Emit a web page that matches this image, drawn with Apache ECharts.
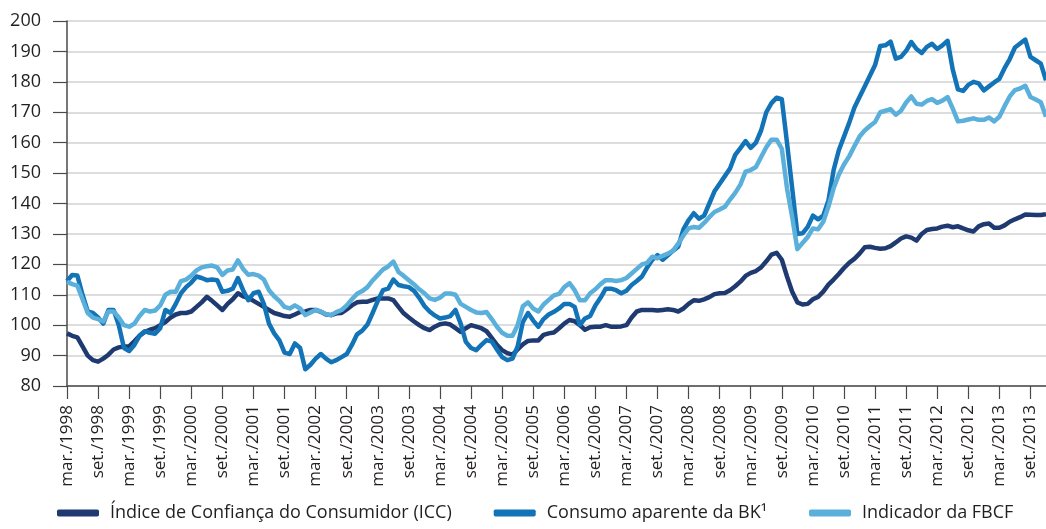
<!DOCTYPE html>
<html>
<head>
<meta charset="utf-8">
<script src="https://cdn.jsdelivr.net/npm/echarts@6/dist/echarts.min.js"></script>
<style>
  html, body { margin: 0; padding: 0; background: #fff; }
  #chart { width: 1046px; height: 529px; }
</style>
</head>
<body>
<div id="chart"></div>
<script>
// monthly series, mar/1998 .. dez/2013
var monthNames = ['jan.', 'fev.', 'mar.', 'abr.', 'maio', 'jun.', 'jul.', 'ago.', 'set.', 'out.', 'nov.', 'dez.'];
var firstYear = 1998, firstMonth = 2, monthCount = 190;

var seriesNames = ['Índice de Confiança do Consumidor (ICC)', 'Consumo aparente da BK¹', 'Indicador da FBCF'];
var seriesColors = ['#1f3a70', '#1273b7', '#5aafdb'];

var icc = [
  97.3, 96.5, 96.0, 93.0, 90.0, 88.5, 88.0, 89.0, 90.3, 92.0, 92.7, 93.0,
  93.0, 94.7, 96.5, 97.8, 98.5, 99.0, 100.0, 101.0, 102.5, 103.5, 104.0, 104.0,
  104.5, 106.0, 107.5, 109.3, 108.0, 106.5, 105.0, 107.0, 108.5, 110.5, 109.5, 109.0,
  108.0, 107.0, 106.0, 105.0, 104.0, 103.5, 103.0, 102.8, 103.5, 104.3, 104.5, 105.0,
  105.0, 104.4, 103.5, 103.3, 103.9, 104.0, 105.2, 106.5, 107.5, 107.7, 107.7, 108.3,
  108.8, 108.8, 108.8, 108.2, 106.0, 103.9, 102.5, 101.2, 100.0, 99.0, 98.4, 99.5,
  100.3, 100.6, 100.2, 99.0, 97.8, 99.0, 100.0, 99.5, 99.0, 98.0, 95.8, 93.5,
  91.8, 90.8, 90.3, 92.0, 93.7, 94.8, 95.0, 95.0, 96.8, 97.3, 97.6, 99.0,
  100.5, 101.7, 101.3, 100.0, 98.5, 99.3, 99.5, 99.5, 100.0, 99.5, 99.5, 99.6,
  100.0, 102.5, 104.5, 105.0, 105.0, 105.0, 104.8, 105.0, 105.2, 105.0, 104.5, 105.5,
  107.0, 108.2, 108.0, 108.5, 109.2, 110.2, 110.5, 110.6, 111.5, 112.8, 114.3, 116.2,
  117.2, 117.8, 119.0, 121.0, 123.2, 123.8, 121.5, 116.0, 111.0, 107.5, 106.8, 107.0,
  108.5, 109.3, 111.0, 113.3, 115.0, 116.8, 118.8, 120.5, 121.8, 123.5, 125.6, 125.8,
  125.4, 125.1, 125.3, 126.0, 127.2, 128.5, 129.2, 128.8, 127.8, 130.0, 131.3, 131.6,
  131.8, 132.4, 132.7, 132.2, 132.5, 131.8, 131.2, 130.8, 132.5, 133.2, 133.4, 132.0,
  132.0, 132.8, 134.0, 134.8, 135.5, 136.4, 136.3, 136.2, 136.2, 136.5
];

var bk = [
  114.5, 116.5, 116.3, 110.0, 104.5, 104.0, 102.5, 100.5, 105.0, 105.0, 100.0, 92.5,
  91.5, 93.5, 96.5, 98.0, 97.5, 97.2, 99.0, 105.0, 104.0, 107.0, 110.5, 112.5,
  114.0, 116.0, 115.5, 114.8, 115.0, 114.8, 111.0, 111.3, 112.0, 115.5, 111.5, 108.2,
  110.5, 111.0, 107.0, 100.5, 97.3, 95.0, 91.0, 90.5, 94.0, 92.5, 85.5, 87.0,
  89.0, 90.5, 89.0, 87.8, 88.5, 89.5, 90.5, 93.5, 97.0, 98.2, 100.2, 104.0,
  108.0, 111.5, 112.0, 115.0, 113.2, 112.8, 112.5, 111.3, 109.0, 106.3, 104.5, 103.2,
  102.2, 102.5, 103.0, 105.0, 100.5, 94.5, 92.5, 91.8, 93.5, 95.1, 94.6, 92.0,
  89.5, 88.5, 89.0, 93.0, 101.0, 104.0, 101.5, 99.5, 102.0, 103.5, 104.4, 105.5,
  107.0, 107.0, 106.0, 100.0, 102.2, 103.0, 106.5, 109.0, 112.0, 112.0, 111.5, 110.5,
  111.3, 113.2, 114.5, 116.0, 119.0, 121.5, 123.0, 121.5, 123.0, 124.5, 125.8, 131.5,
  134.5, 136.8, 135.0, 136.0, 140.0, 144.0, 146.5, 149.0, 151.5, 156.0, 158.2, 160.5,
  158.3, 160.0, 164.0, 170.0, 173.0, 174.8, 174.3, 160.0, 145.0, 130.0, 130.2, 132.3,
  136.0, 134.8, 136.0, 141.0, 151.0, 157.5, 162.0, 166.5, 171.5, 175.0, 178.5, 182.0,
  185.5, 191.8, 192.0, 193.2, 187.6, 188.2, 190.2, 193.1, 190.8, 189.5, 191.5, 192.5,
  190.8, 192.0, 193.5, 184.0, 177.5, 177.0, 179.0, 180.0, 179.5, 177.2, 178.5, 179.8,
  181.0, 184.5, 187.5, 191.3, 192.6, 193.9, 188.2, 187.1, 186.0, 180.5
];

var fbcf = [
  114.3, 113.5, 113.0, 108.5, 104.0, 102.5, 102.0, 101.2, 104.5, 104.5, 102.5, 100.0,
  99.5, 100.5, 103.0, 105.0, 104.5, 104.8, 106.5, 110.0, 111.0, 111.0, 114.5, 115.0,
  116.3, 118.0, 119.0, 119.4, 119.6, 119.0, 116.5, 118.0, 118.3, 121.3, 118.5, 116.6,
  116.8, 116.3, 115.0, 111.5, 109.5, 108.0, 106.0, 105.5, 106.5, 105.5, 103.3, 104.2,
  105.0, 104.5, 103.6, 103.3, 104.3, 105.0, 106.5, 108.5, 110.3, 111.2, 112.5, 114.7,
  116.5, 118.3, 119.3, 120.9, 117.5, 116.2, 114.8, 113.4, 111.8, 110.5, 108.8, 108.3,
  109.0, 110.4, 110.4, 110.0, 107.0, 106.0, 105.0, 104.2, 104.0, 104.3, 102.0, 99.5,
  97.5, 96.5, 96.5, 100.0, 106.2, 107.5, 105.5, 104.5, 106.8, 108.3, 109.8, 110.3,
  112.5, 113.8, 111.5, 108.2, 108.2, 110.5, 111.8, 113.5, 114.8, 114.8, 114.5, 114.8,
  115.5, 117.0, 118.5, 120.0, 120.5, 122.5, 122.0, 122.8, 123.5, 124.5, 126.8, 129.5,
  131.8, 132.3, 132.0, 133.6, 135.5, 137.2, 138.0, 138.9, 141.3, 143.5, 146.2, 150.5,
  151.0, 152.0, 155.3, 158.5, 161.0, 161.0, 158.0, 145.0, 135.5, 125.0, 127.0, 129.0,
  131.8, 131.5, 134.0, 139.0, 145.0, 149.5, 152.8, 155.5, 158.8, 162.0, 164.0, 165.5,
  166.8, 170.0, 170.5, 171.0, 169.2, 170.5, 173.2, 175.2, 172.8, 172.5, 173.7, 174.3,
  173.1, 173.8, 175.0, 171.2, 167.0, 167.2, 167.6, 168.0, 167.5, 167.5, 168.3, 167.0,
  168.5, 172.0, 175.2, 177.3, 177.8, 178.7, 175.0, 174.2, 173.3, 168.5
];

var categories = [];
for (var k = 0; k < monthCount; k++) {
  var m = (firstMonth + k) % 12;
  var y = firstYear + Math.floor((firstMonth + k) / 12);
  categories.push(monthNames[m] + '/' + y);
}

var chart = echarts.init(document.getElementById('chart'));
var fontFamily = '"Open Sans", "Noto Sans", sans-serif';
var axisColor = '#4a4a4a';

function lineSeries(idx, data) {
  return {
    name: seriesNames[idx],
    type: 'line',
    data: data,
    showSymbol: false,
    symbol: 'none',
    lineStyle: { width: 4.5, color: seriesColors[idx], join: 'round' },
    itemStyle: { color: seriesColors[idx] }
  };
}

chart.setOption({
  animation: false,
  textStyle: { fontFamily: fontFamily },
  grid: { left: 67, right: 0, top: 21, bottom: 143 },
  legend: {
    bottom: 2,
    left: 52,
    icon: 'roundRect',
    itemWidth: 42,
    itemHeight: 7,
    itemGap: 42,
    textStyle: { fontSize: 18, color: '#231f20', fontFamily: fontFamily, padding: [0, 0, 0, 6] },
    data: seriesNames
  },
  xAxis: {
    type: 'category',
    data: categories,
    boundaryGap: false,
    axisLine: { show: true, lineStyle: { color: axisColor, width: 1.5 } },
    axisTick: { show: true, interval: 5, length: 13, lineStyle: { color: axisColor, width: 1.2 } },
    axisLabel: { interval: 5, rotate: 90, margin: 19, fontSize: 17, color: '#231f20' },
    splitLine: { show: false }
  },
  yAxis: {
    type: 'value',
    min: 80,
    max: 200,
    interval: 10,
    axisLine: { show: true, lineStyle: { color: axisColor, width: 1.5 } },
    axisTick: { show: true, length: 14, lineStyle: { color: axisColor, width: 1.2 } },
    axisLabel: { margin: 26, fontSize: 18, color: '#231f20' },
    splitLine: { show: true, lineStyle: { color: '#d2d2d2', width: 1.5 } }
  },
  series: [lineSeries(0, icc), lineSeries(1, bk), lineSeries(2, fbcf)]
});
</script>
</body>
</html>
